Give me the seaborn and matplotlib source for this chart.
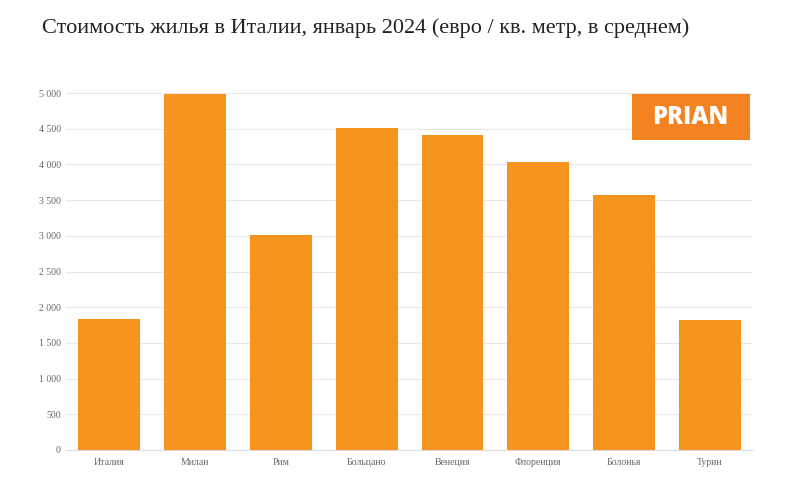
import matplotlib
matplotlib.use("Agg")
import matplotlib.pyplot as plt
import seaborn as sns
import pandas as pd
from matplotlib.patches import Rectangle
from matplotlib.ticker import FuncFormatter

cities = ["Италия", "Милан", "Рим", "Больцано", "Венеция", "Флоренция", "Болонья", "Турин"]
prices = [1830, 4990, 3010, 4510, 4410, 4030, 3570, 1820]
yticks = [0, 500, 1000, 1500, 2000, 2500, 3000, 3500, 4000, 4500, 5000]
title = "Стоимость жилья в Италии, январь 2024 (евро / кв. метр, в среднем)"

df = pd.DataFrame({"city": cities, "price": prices})

sns.set_theme(style="white")
plt.rcParams["font.family"] = ["Liberation Serif", "DejaVu Serif"]

fig = plt.figure(figsize=(8, 4.87), dpi=100)
ax = fig.add_axes([0.083, 0.076, 0.858, 0.733])

sns.barplot(data=df, x="city", y="price", color="#F7941D", saturation=1,
            width=0.72, ax=ax, zorder=3)
for p in ax.patches:
    p.set_edgecolor("none")

ax.set_xlim(-0.5, len(cities) - 0.5)
ax.set_ylim(0, 5000)
ax.set_yticks(yticks)
ax.yaxis.set_major_formatter(FuncFormatter(lambda v, _: f"{int(v):,}".replace(",", " ")))
ax.grid(axis="y", color="#e8e8e8", linewidth=0.8, zorder=0)
ax.set_axisbelow(True)
for s in ["top", "right", "left"]:
    ax.spines[s].set_visible(False)
ax.spines["bottom"].set_color("#dddddd")
ax.spines["bottom"].set_linewidth(0.8)
ax.tick_params(axis="both", length=0, labelsize=7, colors="#666666")
ax.tick_params(axis="y", pad=4)
ax.tick_params(axis="x", pad=6)
ax.set_xlabel("")
ax.set_ylabel("")

fig.text(42 / 800, 1 - 28 / 487, title, fontsize=16, color="#222222",
         ha="left", va="center", family=["Liberation Serif", "DejaVu Serif"])

# PRIAN logo
fig.patches.append(Rectangle((632 / 800, 1 - 139.5 / 487), 117.5 / 800, 45.5 / 487,
                             transform=fig.transFigure, facecolor="#F58220",
                             edgecolor="none", zorder=10))
fig.text(690 / 800, 1 - 117 / 487, "PRIAN", fontsize=17, fontweight="heavy",
         color="white", ha="center", va="center", family=["Open Sans", "DejaVu Sans"],
         zorder=11)

fig.savefig("out.png", dpi=100)
